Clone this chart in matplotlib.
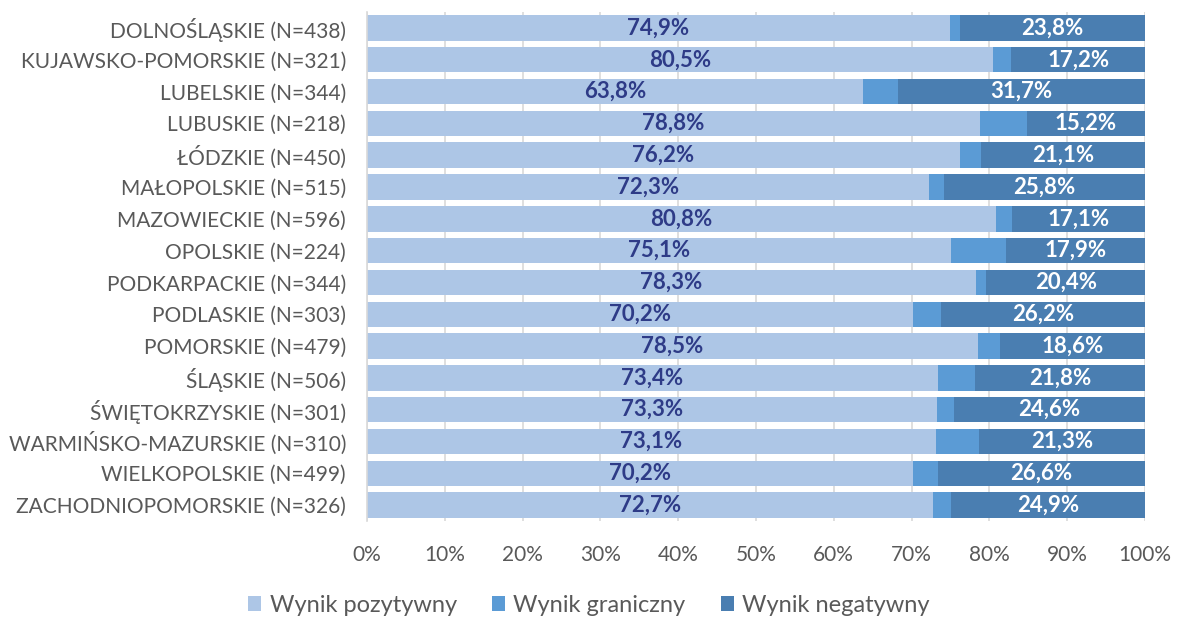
import matplotlib.pyplot as plt
import numpy as np

plt.rcParams['font.family'] = ['Lato', 'DejaVu Sans']

regions = ['DOLNOŚLĄSKIE (N=438)', 'KUJAWSKO-POMORSKIE (N=321)', 'LUBELSKIE (N=344)',
           'LUBUSKIE (N=218)', 'ŁÓDZKIE (N=450)', 'MAŁOPOLSKIE (N=515)',
           'MAZOWIECKIE (N=596)', 'OPOLSKIE (N=224)', 'PODKARPACKIE (N=344)',
           'PODLASKIE (N=303)', 'POMORSKIE (N=479)', 'ŚLĄSKIE (N=506)',
           'ŚWIĘTOKRZYSKIE (N=301)', 'WARMIŃSKO-MAZURSKIE (N=310)',
           'WIELKOPOLSKIE (N=499)', 'ZACHODNIOPOMORSKIE (N=326)']
positive = [74.9, 80.5, 63.8, 78.8, 76.2, 72.3, 80.8, 75.1, 78.3, 70.2, 78.5, 73.4, 73.3, 73.1, 70.2, 72.7]
negative = [23.8, 17.2, 31.7, 15.2, 21.1, 25.8, 17.1, 17.9, 20.4, 26.2, 18.6, 21.8, 24.6, 21.3, 26.6, 24.9]
borderline = [100 - p - n for p, n in zip(positive, negative)]

c_pos = '#ADC6E6'
c_mid = '#5B9BD5'
c_neg = '#4A7EB1'

fig = plt.figure(figsize=(11.78, 6.19), dpi=100)
ax = fig.add_axes([0.3115, 0.1583, 0.6605, 0.8223])

y = np.arange(len(regions))
pos = np.array(positive)
mid = np.array(borderline)
neg = np.array(negative)
h = 0.8
ax.barh(y, pos, height=h, color=c_pos, label='Wynik pozytywny', zorder=2)
ax.barh(y, mid, left=pos, height=h, color=c_mid, label='Wynik graniczny', zorder=2)
ax.barh(y, neg, left=pos + mid, height=h, color=c_neg, label='Wynik negatywny', zorder=2)

for i in range(len(regions)):
    ax.text(pos[i] / 2, y[i], f'{positive[i]:.1f}%'.replace('.', ','), ha='center', va='center',
            color='#2E3B87', fontsize=16, fontweight='bold', zorder=3)
    ax.text(pos[i] + mid[i] + neg[i] / 2, y[i], f'{negative[i]:.1f}%'.replace('.', ','),
            ha='center', va='center', color='white', fontsize=16, fontweight='bold', zorder=3)

ax.set_xlim(0, 100)
ax.set_ylim(len(regions) - 0.5, -0.5)
ax.set_yticks(y)
ax.set_yticklabels(regions, fontsize=15, color='#595959')
ax.set_xticks(np.arange(0, 101, 10))
ax.set_xticklabels([f'{v}%' for v in range(0, 101, 10)], fontsize=15, color='#595959')
ax.tick_params(axis='both', length=0)
ax.tick_params(axis='x', pad=17)
ax.tick_params(axis='y', pad=15)
ax.xaxis.grid(True, color='#D9D9D9', linewidth=1.2, zorder=0)
for s in ['top', 'right', 'bottom']:
    ax.spines[s].set_visible(False)
ax.spines['left'].set_color('#D9D9D9')
ax.spines['left'].set_linewidth(1.2)

leg = fig.legend(loc='center', bbox_to_anchor=(0.5, 0.022), ncol=3, frameon=False,
                 fontsize=17, handlelength=0.55, handleheight=0.55, columnspacing=1.5,
                 handletextpad=0.35)
for t in leg.get_texts():
    t.set_color('#595959')

fig.savefig('out.png', dpi=100)
